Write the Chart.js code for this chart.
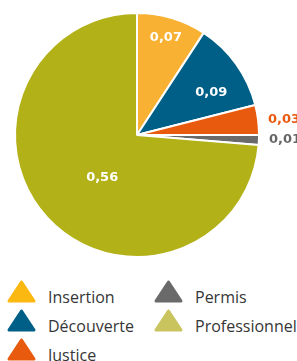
<!DOCTYPE html>
<html>
<head>
<meta charset="utf-8">
<script src="https://cdn.jsdelivr.net/npm/chart.js@4.4.1/dist/chart.umd.min.js"></script>
<style>
  html, body { margin: 0; padding: 0; background: #fff; overflow: hidden; }
  #wrap { position: relative; width: 297px; height: 361px; }
  #chart-box { position: absolute; left: 0; top: 0; width: 297px; height: 270px; }
  #legend {
    position: absolute; left: 7px; top: 280px;
    display: grid; grid-auto-flow: column;
    grid-template-rows: repeat(3, 29px);
    grid-template-columns: 147px 147px;
    font-family: "Open Sans", sans-serif; font-size: 16px; color: #363636;
  }
  .item { position: relative; height: 29px; white-space: nowrap; }
  .item svg { position: absolute; left: 0; top: 0; }
  .item span { position: absolute; left: 41px; top: 9px; line-height: 16px; }
</style>
</head>
<body>
<div id="wrap">
  <div id="chart-box"><canvas id="pie"></canvas></div>
  <div id="legend"></div>
</div>
<script>
(() => {
  'use strict';

  // ---------- data ----------
  const labels = ['Insertion', 'Découverte', 'Justice', 'Permis', 'Professionnel'];
  const values = [0.07, 0.09, 0.03, 0.01, 0.56];
  const sliceColors = ['#f8b133', '#005f86', '#e85b0e', '#6a6a6a', '#b3b118'];
  const legendColors = ['#fbb811', '#005f86', '#e85b0e', '#6a6a6a', '#c9c45e'];
  const labelColors = ['#ffffff', '#ffffff', '#e85b0e', '#666666', '#ffffff'];

  const fmt = v => v.toFixed(2).replace('.', ',');

  // ---------- slice labels ----------
  const sliceLabels = {
    id: 'sliceLabels',
    afterDatasetsDraw(chart, args, opts) {
      const ctx = chart.ctx;
      const meta = chart.getDatasetMeta(0);
      ctx.save();
      ctx.font = 'bold 13px "DejaVu Sans", sans-serif';
      ctx.textBaseline = 'middle';
      meta.data.forEach((arc, i) => {
        const v = values[i];
        const { x, y, startAngle, endAngle, outerRadius } = arc.getProps(['x', 'y', 'startAngle', 'endAngle', 'outerRadius'], true);
        const mid = (startAngle + endAngle) / 2;
        ctx.fillStyle = labelColors[i];
        if (v < opts.outsideBelow) {
          ctx.textAlign = 'left';
          ctx.fillText(fmt(v), x + outerRadius * Math.cos(mid) + opts.outsideGap, y + outerRadius * Math.sin(mid));
        } else {
          const a = mid + (opts.shift[i] || 0) * Math.PI / 180;
          const r = outerRadius * opts.radius[i];
          ctx.textAlign = 'center';
          ctx.fillText(fmt(v), x + r * Math.cos(a), y + r * Math.sin(a));
        }
      });
      ctx.restore();
    }
  };

  new Chart(document.getElementById('pie'), {
    type: 'pie',
    data: {
      labels,
      datasets: [{
        data: values,
        backgroundColor: sliceColors,
        borderColor: '#ffffff',
        borderWidth: 2,
      }],
    },
    options: {
      responsive: true,
      maintainAspectRatio: false,
      animation: false,
      layout: { padding: { left: 14, right: 37, top: 12, bottom: 12 } },
      plugins: {
        legend: { display: false },
        tooltip: { enabled: false },
        sliceLabels: {
          outsideBelow: 0.05,
          outsideGap: 10,
          radius: [0.83, 0.70, 0, 0, 0.45],
          shift: [0, 6, 0, 0, -8],
        },
      },
    },
    plugins: [sliceLabels],
  });

  // ---------- legend ----------
  const legend = document.getElementById('legend');
  legend.innerHTML = labels.map((l, i) => `
    <div class="item">
      <svg width="29" height="23" viewBox="0 0 29 23">
        <polygon points="14.5,2 27,21 2,21" fill="${legendColors[i]}" stroke="${legendColors[i]}" stroke-width="3" stroke-linejoin="round"/>
      </svg>
      <span>${l}</span>
    </div>`).join('');
})();
</script>
</body>
</html>
